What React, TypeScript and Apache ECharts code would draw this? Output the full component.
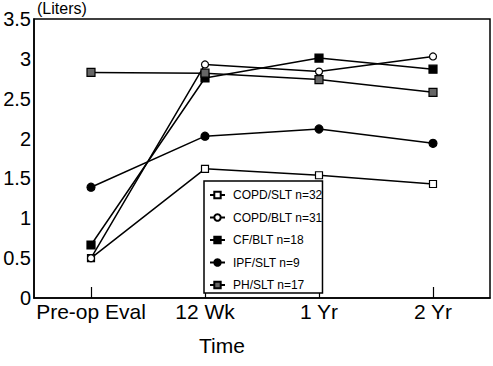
import React, { useEffect, useRef } from "react";
import * as echarts from "echarts";

const categories = ["Pre-op Eval", "12 Wk", "1 Yr", "2 Yr"];
const copdSlt = [0.5, 1.62, 1.54, 1.43];
const copdBlt = [0.5, 2.93, 2.84, 3.03];
const cfBlt = [0.665, 2.76, 3.01, 2.87];
const ipfSlt = [1.39, 2.03, 2.12, 1.94];
const phSlt = [2.83, 2.82, 2.74, 2.58];
const seriesNames = ["COPD/SLT n=32", "COPD/BLT n=31", "CF/BLT n=18", "IPF/SLT n=9", "PH/SLT n=17"];

const FONT = "'Liberation Sans', Arial, Helvetica, sans-serif";

export default function App() {
  const ref = useRef<HTMLDivElement>(null);
  useEffect(() => {
    if (!ref.current) return;
    const chart = echarts.init(ref.current, null, { renderer: "svg" });
    const lineStyle = { color: "#000", width: 1.5 };
    const mk = (name: string, data: number[], symbol: string, size: number, fill: string) => ({
      name,
      type: "line",
      data,
      symbol,
      symbolSize: size,
      showAllSymbol: true,
      lineStyle,
      itemStyle: { color: fill, borderColor: "#000", borderWidth: 1.2 },
      z: 3,
    });
    chart.setOption({
      animation: false,
      backgroundColor: "#fff",
      grid: {
        left: 34,
        top: 19,
        width: 456,
        height: 279,
        show: true,
        borderColor: "#000",
        borderWidth: 1.5,
        backgroundColor: "transparent",
      },
      xAxis: {
        type: "category",
        data: categories,
        boundaryGap: true,
        axisLine: { lineStyle: { color: "#000", width: 1.5 } },
        axisTick: { show: true, inside: true, alignWithLabel: true, length: 11, lineStyle: { color: "#000", width: 1.2 } },
        axisLabel: { color: "#000", fontSize: 21, fontFamily: FONT, margin: 3, interval: 0 },
        splitLine: { show: false },
      },
      yAxis: {
        type: "value",
        min: 0,
        max: 3.5,
        interval: 0.5,
        axisLine: { show: true, lineStyle: { color: "#000", width: 1.5 } },
        axisTick: { show: false },
        axisLabel: { color: "#000", fontSize: 20, fontFamily: FONT, margin: 3 },
        splitLine: { show: false },
      },
      legend: {
        orient: "vertical",
        left: 204,
        top: 181,
        padding: [8, 0, 2, 5],
        itemWidth: 15,
        itemHeight: 8,
        itemGap: 10.5,
        borderColor: "#000",
        borderWidth: 1.5,
        backgroundColor: "#fff",
        data: seriesNames,
        textStyle: { color: "#000", fontSize: 12, fontFamily: FONT, padding: [0, 0, 0, 3] },
        z: 10,
      },
      graphic: [
        {
          type: "text",
          left: 37,
          top: 0,
          style: { text: "(Liters)", font: `16px ${FONT}`, fill: "#000" },
        },
        {
          type: "text",
          x: 222,
          y: 335,
          style: { text: "Time", font: `21px ${FONT}`, fill: "#000", textAlign: "center", textVerticalAlign: "top" },
        },
      ],
      series: [
        mk(seriesNames[0], copdSlt, "rect", 7, "#fff"),
        mk(seriesNames[1], copdBlt, "circle", 7, "#fff"),
        mk(seriesNames[2], cfBlt, "rect", 8, "#000"),
        mk(seriesNames[3], ipfSlt, "circle", 8, "#000"),
        mk(seriesNames[4], phSlt, "rect", 8, "#666"),
      ],
    });
    return () => chart.dispose();
  }, []);
  return (
    <div
      ref={ref}
      style={{ position: "absolute", left: 0, top: 0, width: 493, height: 366 }}
    />
  );
}
